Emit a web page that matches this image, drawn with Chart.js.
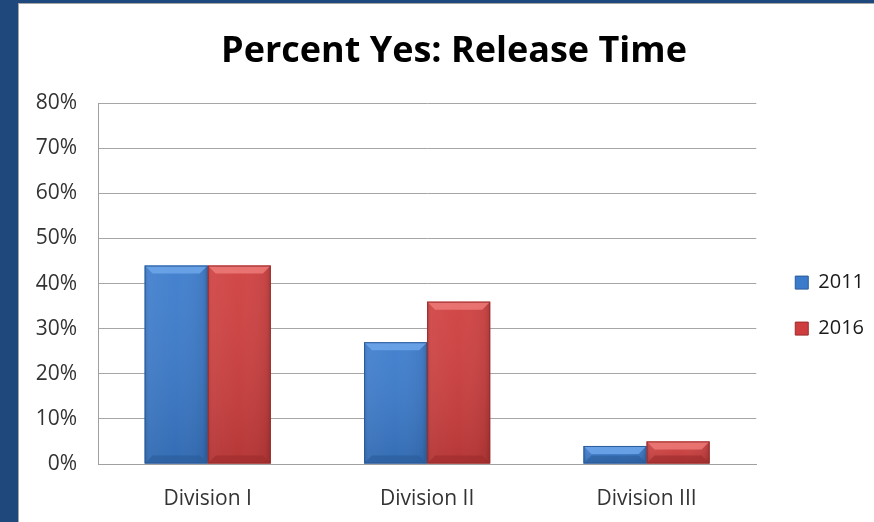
<!DOCTYPE html>
<html>
<head>
<meta charset="utf-8">
<script src="https://cdn.jsdelivr.net/npm/chart.js@4"></script>
<style>
html,body{margin:0;padding:0;background:#1f497d;width:874px;height:522px;overflow:hidden;}
#box{position:absolute;left:18px;top:3px;width:856px;height:519px;background:#fff;border-left:1px solid #a6a6a6;border-top:1px solid #a6a6a6;box-sizing:border-box;}
#c{position:absolute;left:1px;top:1px;}
</style>
</head>
<body>
<div id="box"><canvas id="c" width="854" height="517"></canvas></div>
<script>
const categories = ['Division I', 'Division II', 'Division III'];
const seriesNames = ['2011', '2016'];
const values2011 = [44, 27, 4];
const values2016 = [44, 36, 5];
const yTicks = [0, 10, 20, 30, 40, 50, 60, 70, 80];
const titleText = 'Percent Yes: Release Time';

const FONT = "'Open Sans', Carlito, Lato, sans-serif";
const baseColors = ['#3b7bcc', '#cf3e3e'];
const darkColors = ['#2a5b9a', '#9c2b2b'];
const lightColors = ['#6ea6ea', '#ec7a78'];

const bevel = {
  id: 'bevel',
  afterDatasetsDraw(chart) {
    const ctx = chart.ctx;
    chart.data.datasets.forEach((ds, di) => {
      const meta = chart.getDatasetMeta(di);
      meta.data.forEach(bar => {
        const p = bar.getProps(['x', 'y', 'base', 'width'], true);
        const l = p.x - p.width / 2, r = p.x + p.width / 2, t = p.y, b = p.base;
        const h = b - t;
        const bv = Math.min(8, h / 2);
        ctx.save();
        const g = ctx.createLinearGradient(l, 0, r, 0);
        g.addColorStop(0, 'rgba(0,0,0,0.12)');
        g.addColorStop(0.08, 'rgba(255,255,255,0.04)');
        g.addColorStop(0.5, 'rgba(255,255,255,0.0)');
        g.addColorStop(0.92, 'rgba(0,0,0,0.06)');
        g.addColorStop(1, 'rgba(0,0,0,0.2)');
        ctx.fillStyle = g;
        ctx.fillRect(l, t, r - l, h);
        const g2 = ctx.createLinearGradient(0, t, 0, b);
        g2.addColorStop(0, 'rgba(255,255,255,0.05)');
        g2.addColorStop(1, 'rgba(0,0,0,0.12)');
        ctx.fillStyle = g2;
        ctx.fillRect(l, t, r - l, h);
        ctx.beginPath();
        ctx.moveTo(l, t); ctx.lineTo(r, t); ctx.lineTo(r - bv, t + bv); ctx.lineTo(l + bv, t + bv); ctx.closePath();
        ctx.fillStyle = lightColors[di];
        ctx.globalAlpha = 0.85;
        ctx.fill();
        ctx.beginPath();
        ctx.moveTo(l, b); ctx.lineTo(r, b); ctx.lineTo(r - bv, b - bv); ctx.lineTo(l + bv, b - bv); ctx.closePath();
        ctx.fillStyle = darkColors[di];
        ctx.globalAlpha = 0.6;
        ctx.fill();
        ctx.globalAlpha = 1;
        ctx.strokeStyle = darkColors[di];
        ctx.lineWidth = 1;
        ctx.strokeRect(l + 0.5, t + 0.5, r - l - 1, h - 1);
        ctx.restore();
      });
    });
  }
};

new Chart(document.getElementById('c'), {
  type: 'bar',
  data: {
    labels: categories,
    datasets: [
      { label: seriesNames[0], data: values2011, backgroundColor: baseColors[0], borderWidth: 0 },
      { label: seriesNames[1], data: values2016, backgroundColor: baseColors[1], borderWidth: 0 }
    ]
  },
  options: {
    responsive: false,
    animation: false,
    devicePixelRatio: 1,
    layout: { padding: { left: 14, right: 0, top: 14, bottom: 0 } },
    datasets: { bar: { categoryPercentage: 0.575, barPercentage: 1 } },
    plugins: {
      title: {
        display: true, text: titleText, color: '#000',
        font: { family: FONT, size: 36, weight: 'bold' },
        padding: { top: 11, bottom: 30 }
      },
      legend: {
        position: 'right',
        fullSize: false,
        title: { display: true, text: ' ', font: { family: FONT, size: 10 }, padding: { top: 0, bottom: 32 } },
        labels: {
          color: '#1a1a1a', font: { family: FONT, size: 20 },
          boxWidth: 13, boxHeight: 13, padding: 26,
          generateLabels(chart) {
            return chart.data.datasets.map((d, i) => ({
              text: d.label, fillStyle: baseColors[i], strokeStyle: darkColors[i],
              fontColor: '#1a1a1a',
              lineWidth: 1, datasetIndex: i, hidden: false
            }));
          }
        }
      },
      tooltip: { enabled: false }
    },
    scales: {
      x: {
        grid: { display: false, drawTicks: false },
        border: { color: '#a0a0a0', width: 1 },
        afterFit(scale) { scale.height = 58; },
        ticks: { color: '#333333', font: { family: FONT, size: 21 }, padding: 22 }
      },
      y: {
        min: 0, max: 80,
        afterBuildTicks(scale) { scale.ticks = yTicks.map(v => ({ value: v })); },
        afterFit(scale) { scale.width = 64; },
        grid: { color: '#a6a6a6', drawTicks: false },
        border: { color: '#a0a0a0', width: 1 },
        ticks: { color: '#333333', font: { family: FONT, size: 21 }, padding: 21, callback: v => v + '%' }
      },
      gap: {
        position: 'right', display: true,
        grid: { display: false, drawTicks: false },
        border: { display: false },
        ticks: { display: false },
        afterFit(scale) { scale.width = 13; }
      }
    }
  },
  plugins: [bevel]
});
</script>
</body>
</html>
